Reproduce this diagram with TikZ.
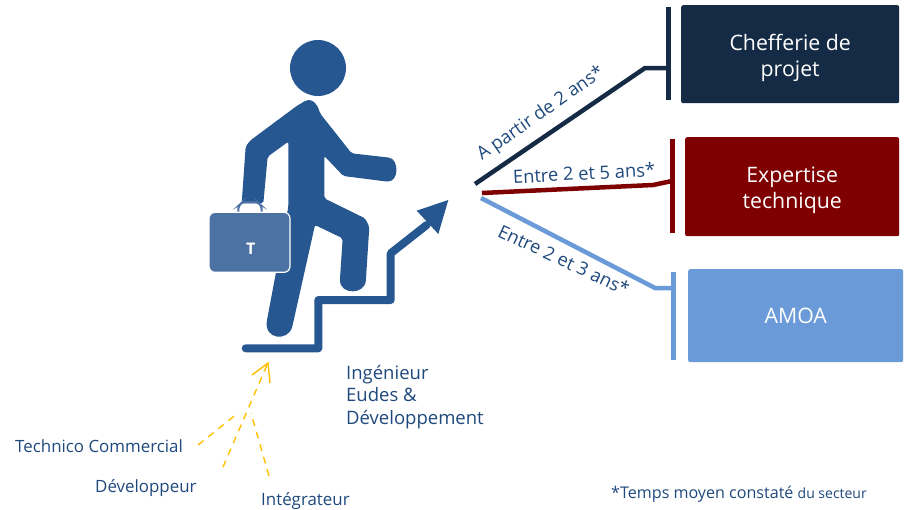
\documentclass[tikz,border=0pt]{standalone}
\usepackage{fontspec}
\setmainfont{Open Sans}
\usetikzlibrary{positioning}
\definecolor{navybox}{HTML}{152B45}
\definecolor{redbox}{HTML}{7F0000}
\definecolor{bluebox}{HTML}{6A9BD8}
\definecolor{figblue}{HTML}{275791}
\definecolor{caseblue}{HTML}{4C72A4}
\definecolor{labelblue}{HTML}{1F497D}
\definecolor{dashyellow}{HTML}{FFC000}
\newcommand{\boxdrop}{\rule{0pt}{23pt}}
\begin{document}
\begin{tikzpicture}[x=1pt,y=-1pt,
    careerbox/.style={rounded corners=2pt,text=white,align=center,font=\fontsize{21.3}{26}\selectfont,anchor=north west,inner sep=0pt},
    careerline/.style={line width=4.5pt,line join=round},
    careerbar/.style={line width=5pt},
    durationlabel/.style={text=labelblue,font=\fontsize{18.3}{22}\selectfont,inner sep=0pt},
    rolelabel/.style={text=labelblue,font=\fontsize{16.9}{22}\selectfont,align=left,anchor=west,inner sep=0pt},
    yellowdash/.style={draw=dashyellow,line width=1.4pt,dash pattern=on 7pt off 6pt}]
    \useasboundingbox (0,0) rectangle (909,509);

    % person and stairs
    \fill[figblue] (318,68) circle (28);
    \begin{scope}[shift={(200,20)},scale=1/3]
      \fill[figblue,rounded corners=2pt] (320,240) .. controls (340,240) and (352,252) .. (360,280)
        -- (455,400) -- (560,412) .. controls (598,416) and (598,488) .. (555,484)
        -- (430,468) -- (373,408) -- (373,535) -- (495,595) -- (508,620) -- (498,775)
        .. controls (495,825) and (420,825) .. (420,775) -- (428,655) -- (345,615) -- (278,915)
        .. controls (265,965) and (190,960) .. (202,895) -- (265,560) -- (265,365) -- (203,410)
        -- (190,550) -- (125,550) -- (137,380) -- (150,362) -- (290,258) -- cycle;
      \draw[caseblue,line width=2pt,rounded corners=3pt] (115,577) -- (115,558) -- (128,546) -- (172,546) -- (185,558) -- (185,577);
      \fill[white] (123,575) rectangle (178,562);
      \draw[white,line width=1.2pt,fill=caseblue,rounded corners=6pt] (27,577) rectangle (270,757);
      \node[text=white,font=\bfseries\fontsize{16}{18}\selectfont,inner sep=0pt] (caseT) at (152,687) {T};
      \draw[figblue,line width=8pt,line cap=round,line join=round] (137,985) -- (355,985) -- (355,840) -- (572,840) -- (572,700) -- (680,615);
      \fill[figblue] (745,540) -- (650,572) -- (715,642) -- cycle;
    \end{scope}

    % target boxes
    \node[careerbox,fill=navybox,minimum width=218pt,minimum height=98pt] (chefferie) at (681,5) {\boxdrop Chefferie de\\projet};
    \node[careerbox,fill=redbox,minimum width=214pt,minimum height=99pt] (expertise) at (685,137) {\boxdrop Expertise\\technique};
    \node[careerbox,fill=bluebox,minimum width=215pt,minimum height=93pt] (amoa) at (688,269) {AMOA};

    % bars in front of the boxes
    \coordinate (barA1) at (668,7);    \coordinate (barA2) at (668,100);
    \coordinate (barB1) at (672,139);  \coordinate (barB2) at (672,233);
    \coordinate (barC1) at (673,272);  \coordinate (barC2) at (673,360);
    \draw[careerbar,navybox] (barA1) -- (barA2);
    \draw[careerbar,redbox] (barB1) -- (barB2);
    \draw[careerbar,bluebox] (barC1) -- (barC2);

    \coordinate (startA) at (475,184);  \coordinate (elbowA) at (645,68);  \coordinate (endA) at (668,68);
    \coordinate (startB) at (482,193);  \coordinate (elbowB) at (653,185); \coordinate (endB) at (672,181);
    \coordinate (startC) at (481,198);  \coordinate (elbowC) at (655,288); \coordinate (endC) at (673,288);
    \draw[careerline,navybox] (startA) -- (elbowA) -- (endA);
    \draw[careerline,redbox] (startB) -- (elbowB) -- (endB);
    \draw[careerline,bluebox] (startC) -- (elbowC) -- (endC);

    \node[durationlabel,rotate=35] (durA) at (541,114) {A partir de 2 ans*};
    \node[durationlabel,rotate=3] (durB) at (584,173) {Entre 2 et 5 ans*};
    \node[durationlabel,rotate=-25] (durC) at (564,260) {Entre 2 et 3 ans*};

    % earlier roles
    \node[rolelabel,font=\fontsize{18.5}{22.5}\selectfont] (ingenieur) at (346,397) {Ingénieur\\Eudes \&\\Développement};
    \node[rolelabel] (technico) at (15,446) {Technico Commercial};
    \node[rolelabel] (developpeur) at (95,488) {Développeur};
    \node[rolelabel] (integrateur) at (261,501) {Intégrateur};
    \node[rolelabel,font=\fontsize{16.1}{20}\selectfont] (temps) at (611,494) {*Temps moyen constaté {\fontsize{14}{20}\selectfont du secteur}};

    \coordinate (tip) at (268,363);
    \coordinate (wingL) at (252,375);
    \coordinate (wingR) at (270,383);
    \coordinate (dashA) at (198,445);  \coordinate (dashAend) at (238,413);
    \coordinate (dashB) at (223,467);  \coordinate (dashBend) at (267,365);
    \coordinate (dashC) at (269,476);  \coordinate (dashCend) at (251,413);
    \draw[yellowdash] (dashA) -- (dashAend);
    \draw[yellowdash] (dashB) -- (dashBend);
    \draw[yellowdash] (dashC) -- (dashCend);
    \draw[dashyellow,line width=1.4pt] (wingL) -- (tip) -- (wingR);
\end{tikzpicture}
\end{document}
